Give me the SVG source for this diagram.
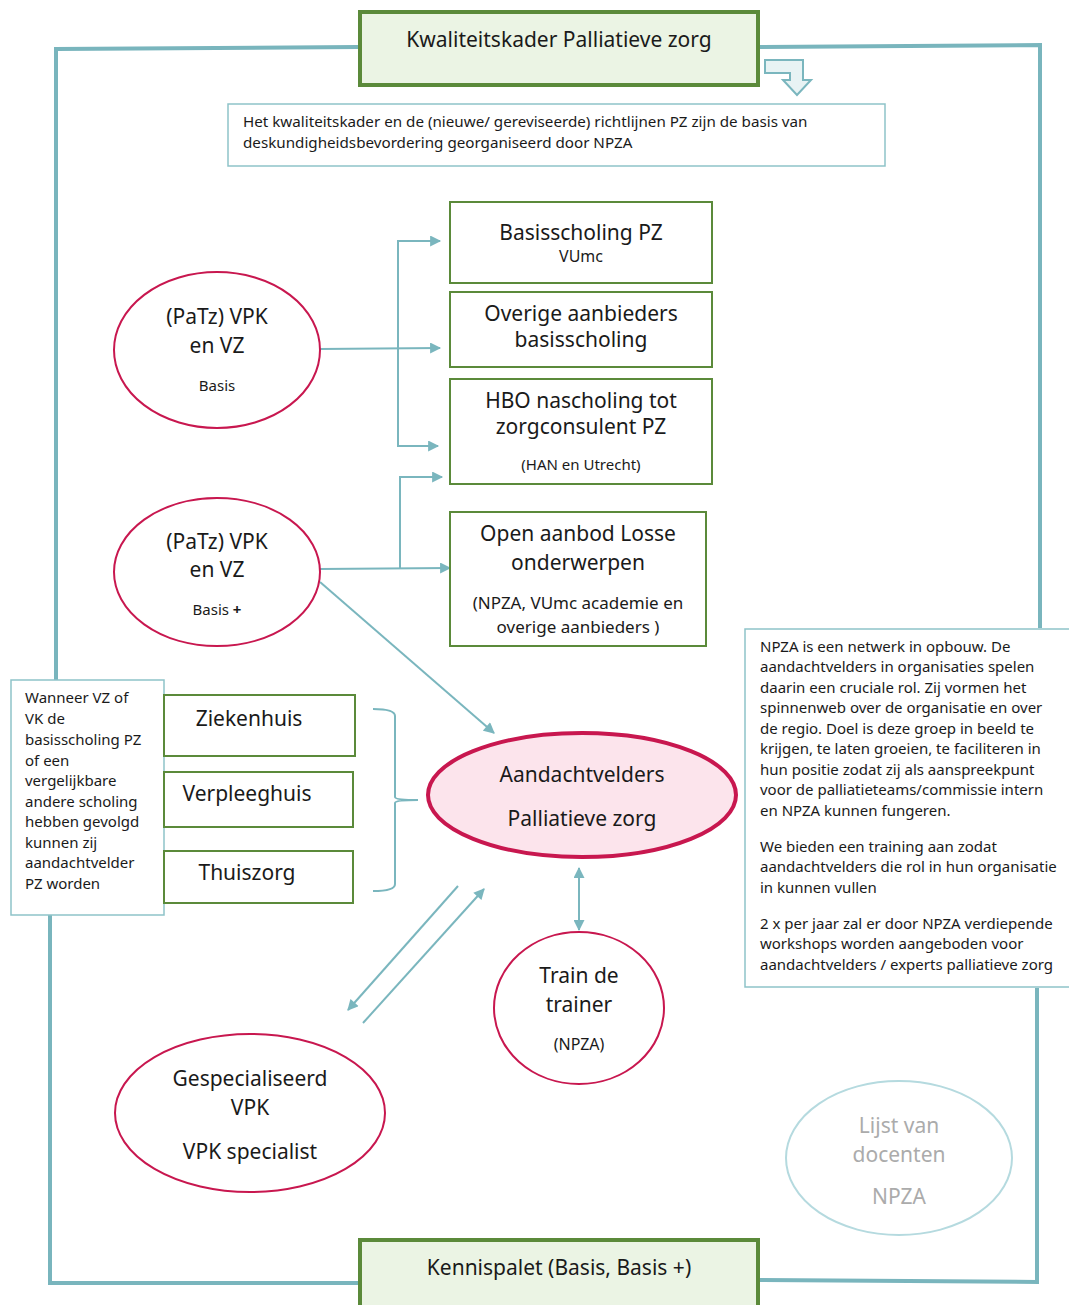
<svg xmlns="http://www.w3.org/2000/svg" width="1069" height="1305" viewBox="0 0 1069 1305">
<defs>
<style>
text{font-family:"Noto Sans","Liberation Sans",sans-serif;fill:#1a1a1a}
.frame{fill:none;stroke:#79B5BD;stroke-width:4}
.gbox{fill:#fff;stroke:#5B8A3A;stroke-width:2}
.hbox{fill:#EBF4E4;stroke:#5B8A3A;stroke-width:4}
.tbox{fill:#fff;stroke:#8EC3C9;stroke-width:1.5}
.ell{fill:#fff;stroke:#C8174F;stroke-width:2}
.con{fill:none;stroke:#7AB6BE;stroke-width:2}
.c{text-anchor:middle}
.l{font-size:21px}
.s{font-size:15px}
.m{font-size:15px}
.o{font-size:17px}
</style>
<marker id="ah" viewBox="0 0 10 10" refX="9" refY="5" markerWidth="6" markerHeight="5.5" orient="auto-start-reverse" markerUnits="strokeWidth">
<path d="M0,0 L10,5 L0,10 Z" fill="#7AB6BE"/>
</marker>
</defs>

<g id="frame">
<path class="frame" d="M358,47 L56,49 L56,680"/>
<path class="frame" d="M50,915 L50,1283 L360,1283"/>
<path class="frame" d="M760,47 L1040,45 L1040,628"/>
<path class="frame" d="M1037,988 L1037,1282 L760,1280"/>
</g>

<g id="connectors">
<line class="con" x1="320" y1="349" x2="440" y2="348" marker-end="url(#ah)"/>
<polyline class="con" points="440,241 398,241 398,446 438,446" marker-start="url(#ah)" marker-end="url(#ah)"/>
<line class="con" x1="320" y1="569" x2="450" y2="568" marker-end="url(#ah)"/>
<polyline class="con" points="400,569 400,477 442,477" marker-end="url(#ah)"/>
<line class="con" x1="320" y1="582" x2="494" y2="733" stroke-width="1.5" marker-end="url(#ah)"/>
<line class="con" x1="579" y1="868" x2="579" y2="930" stroke-width="1.5" marker-start="url(#ah)" marker-end="url(#ah)"/>
<line class="con" x1="458" y1="886" x2="348" y2="1010" marker-end="url(#ah)"/>
<line class="con" x1="363" y1="1023" x2="484" y2="889" marker-end="url(#ah)"/>
<path class="con" stroke-width="1.5" d="M373,709 Q395,709 395,716 V797 Q395,800 418,800 Q395,800 395,803 V884 Q395,891 373,891"/>
<path d="M765,60 H803 V80 H811 L797,95 L783,80 H790 V73 H765 Z" fill="#E8F3F4" stroke="#7AB6BE" stroke-width="2"/>
</g>

<g id="kwaliteitskader">
<rect class="hbox" x="360" y="12" width="398" height="73"/>
<text class="c l" x="559" y="47">Kwaliteitskader Palliatieve zorg</text>
</g>

<g id="intro">
<rect class="tbox" x="228" y="104" width="657" height="62"/>
<text x="243" y="127" font-size="15.2">Het kwaliteitskader en de (nieuwe/ gereviseerde) richtlijnen PZ zijn de basis van</text>
<text x="243" y="148" font-size="15.2">deskundigheidsbevordering georganiseerd door NPZA</text>
</g>

<g id="basisscholing">
<rect class="gbox" x="450" y="202" width="262" height="81"/>
<text class="c l" x="581" y="240">Basisscholing PZ</text>
<text class="c" x="581" y="262" font-size="16">VUmc</text>
</g>

<g id="overige">
<rect class="gbox" x="450" y="292" width="262" height="75"/>
<text class="c l" x="581" y="321">Overige aanbieders</text>
<text class="c l" x="581" y="347">basisscholing</text>
</g>

<g id="hbo">
<rect class="gbox" x="450" y="379" width="262" height="105"/>
<text class="c l" x="581" y="408">HBO nascholing tot</text>
<text class="c l" x="581" y="434">zorgconsulent PZ</text>
<text class="c s" x="581" y="470">(HAN en Utrecht)</text>
</g>

<g id="openaanbod">
<rect class="gbox" x="450" y="512" width="256" height="134"/>
<text class="c l" x="578" y="541">Open aanbod Losse</text>
<text class="c l" x="578" y="570">onderwerpen</text>
<text class="c o" x="578" y="609">(NPZA, VUmc academie en</text>
<text class="c o" x="578" y="633">overige aanbieders  )</text>
</g>

<g id="vpk-basis">
<ellipse class="ell" cx="217" cy="350" rx="103" ry="78"/>
<text class="c l" x="217" y="324">(PaTz) VPK</text>
<text class="c l" x="217" y="353">en VZ</text>
<text class="c s" x="217" y="391">Basis</text>
</g>

<g id="vpk-basisplus">
<ellipse class="ell" cx="217" cy="572" rx="103" ry="74"/>
<text class="c l" x="217" y="549">(PaTz) VPK</text>
<text class="c l" x="217" y="577">en VZ</text>
<text class="c s" x="217" y="615">Basis <tspan font-weight="bold">+</tspan></text>
</g>

<g id="wanneer">
<rect class="tbox" x="11" y="680" width="153" height="235"/>
<text x="25" y="703" class="m">Wanneer VZ of</text>
<text x="25" y="724" class="m">VK de</text>
<text x="25" y="745" class="m">basisscholing PZ</text>
<text x="25" y="766" class="m">of een</text>
<text x="25" y="786" class="m">vergelijkbare</text>
<text x="25" y="807" class="m">andere scholing</text>
<text x="25" y="827" class="m">hebben gevolgd</text>
<text x="25" y="848" class="m">kunnen zij</text>
<text x="25" y="868" class="m">aandachtvelder</text>
<text x="25" y="889" class="m">PZ worden</text>
</g>

<g id="ziekenhuis">
<rect class="gbox" x="164" y="695" width="191" height="61"/>
<text class="c l" x="249" y="726">Ziekenhuis</text>
</g>
<g id="verpleeghuis">
<rect class="gbox" x="164" y="772" width="189" height="55"/>
<text class="c l" x="247" y="801">Verpleeghuis</text>
</g>
<g id="thuiszorg">
<rect class="gbox" x="164" y="851" width="189" height="52"/>
<text class="c l" x="247" y="880">Thuiszorg</text>
</g>

<g id="aandachtvelders">
<ellipse cx="582" cy="795" rx="154" ry="62" fill="#FCE4EC" stroke="#C8174F" stroke-width="4"/>
<text class="c l" x="582" y="782">Aandachtvelders</text>
<text class="c l" x="582" y="826">Palliatieve zorg</text>
</g>

<g id="npza-info">
<rect class="tbox" x="745" y="629" width="330" height="358"/>
<text x="760" y="652" class="m">NPZA is een netwerk in opbouw. De</text>
<text x="760" y="672" class="m">aandachtvelders in organisaties spelen</text>
<text x="760" y="693" class="m">daarin een cruciale rol. Zij vormen het</text>
<text x="760" y="713" class="m">spinnenweb over de organisatie en over</text>
<text x="760" y="734" class="m">de regio. Doel is deze groep in beeld te</text>
<text x="760" y="754" class="m">krijgen, te laten groeien, te faciliteren in</text>
<text x="760" y="775" class="m">hun positie zodat zij als aanspreekpunt</text>
<text x="760" y="795" class="m">voor de palliatieteams/commissie intern</text>
<text x="760" y="816" class="m">en NPZA kunnen fungeren.</text>
<text x="760" y="852" class="m">We bieden een training aan zodat</text>
<text x="760" y="872" class="m">aandachtvelders die rol in hun organisatie</text>
<text x="760" y="893" class="m">in kunnen vullen</text>
<text x="760" y="929" class="m">2 x per jaar zal er door NPZA verdiepende</text>
<text x="760" y="949" class="m">workshops worden aangeboden voor</text>
<text x="760" y="970" class="m">aandachtvelders / experts palliatieve zorg</text>
</g>

<g id="train">
<ellipse class="ell" cx="579" cy="1008" rx="85" ry="76"/>
<text class="c l" x="579" y="983">Train de</text>
<text class="c l" x="579" y="1012">trainer</text>
<text class="c" x="579" y="1050" font-size="16">(NPZA)</text>
</g>

<g id="gespecialiseerd">
<ellipse class="ell" cx="250" cy="1113" rx="135" ry="79"/>
<text class="c l" x="250" y="1086">Gespecialiseerd</text>
<text class="c l" x="250" y="1115">VPK</text>
<text class="c l" x="250" y="1159">VPK specialist</text>
</g>

<g id="docenten">
<ellipse cx="899" cy="1158" rx="113" ry="77" fill="#fff" stroke="#B5DADF" stroke-width="2"/>
<text class="c l" x="899" y="1133" style="fill:#ABABAB">Lijst van</text>
<text class="c l" x="899" y="1162" style="fill:#ABABAB">docenten</text>
<text class="c l" x="899" y="1204" style="fill:#ABABAB">NPZA</text>
</g>

<g id="kennispalet">
<rect class="hbox" x="360" y="1240" width="398" height="70"/>
<text class="c l" x="559" y="1275">Kennispalet (Basis, Basis +)</text>
</g>
</svg>
